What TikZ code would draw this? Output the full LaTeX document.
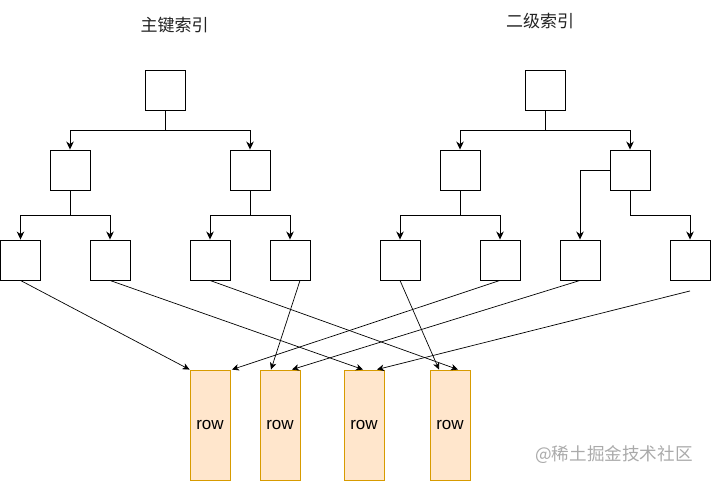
\documentclass[tikz,border=0pt]{standalone}
\usepackage{fontspec}
\setmainfont{Liberation Sans}
\newfontfamily\cjk{Noto Sans CJK SC}
\usetikzlibrary{arrows.meta,calc}
\definecolor{rowfill}{HTML}{FFE6CC}
\definecolor{rowline}{HTML}{D79B00}
\definecolor{titlecol}{HTML}{222222}
\definecolor{markcol}{HTML}{AAAAAA}
\tikzset{
  box/.style={draw, line width=0.9pt, minimum size=40pt, inner sep=0pt},
  rowbox/.style={draw=rowline, fill=rowfill, line width=0.9pt, minimum width=40pt, minimum height=110pt, inner sep=0pt, font=\fontsize{17}{20}\selectfont},
  tree/.style={line width=0.9pt, -{Stealth[length=8pt,width=7.5pt,inset=2.5pt]}},
  link/.style={line width=0.7pt, -{Stealth[length=7pt,width=6.5pt,inset=2pt]}},
  title/.style={font=\cjk\fontsize{17}{20}\selectfont, text=titlecol, inner sep=0pt},
  wmark/.style={font=\cjk\fontsize{17.6}{20}\selectfont, text=markcol, inner sep=0pt}
}
\begin{document}
\begin{tikzpicture}[x=1pt,y=-1pt]
\useasboundingbox (0,0) rectangle (711,481);
% titles
\node[title] (t1) at (174.5,25) {主键索引};
\node[title] (t2) at (540,21) {二级索引};
% primary index tree
\node[box] (pr) at (165,90) {};
\node[box] (p2a) at (70,170) {};
\node[box] (p2b) at (250,170) {};
\node[box] (p1) at (20.5,260) {};
\node[box] (p2) at (110,260) {};
\node[box] (p3) at (210,260) {};
\node[box] (p4) at (290,260) {};
% secondary index tree
\node[box] (sr) at (545,90) {};
\node[box] (s2a) at (460,170) {};
\node[box] (s2b) at (630,170) {};
\node[box] (s1) at (400,260) {};
\node[box] (s2) at (500,260) {};
\node[box] (s3) at (580,260) {};
\node[box] (s4) at (690,260) {};
% rows
\node[rowbox] (r1) at (210,425) {\raisebox{-1.5pt}{row}};
\node[rowbox] (r2) at (280,425) {\raisebox{-1.5pt}{row}};
\node[rowbox] (r3) at (364,425) {\raisebox{-1.5pt}{row}};
\node[rowbox] (r4) at (450,425) {\raisebox{-1.5pt}{row}};
% watermark
\node[wmark] (wm) at (614,455) {@稀土掘金技术社区};
% tree connectors (primary)
\draw[tree] (pr.south) -- ++(0,20) -| (p2a.north);
\draw[tree] (pr.south) -- ++(0,20) -| (p2b.north);
\draw[tree] (p2a.south) -- ++(0,25) -| (p1.north);
\draw[tree] (p2a.south) -- ++(0,25) -| (p2.north);
\draw[tree] (p2b.south) -- ++(0,25) -| (p3.north);
\draw[tree] (p2b.south) -- ++(0,25) -| (p4.north);
% tree connectors (secondary)
\draw[tree] (sr.south) -- ++(0,20) -| (s2a.north);
\draw[tree] (sr.south) -- ++(0,20) -| (s2b.north);
\draw[tree] (s2a.south) -- ++(0,25) -| (s1.north);
\draw[tree] (s2a.south) -- ++(0,25) -| (s2.north);
\draw[tree] (s2b.west) -| (s3.north);
\draw[tree] (s2b.south) -- ++(0,25) -| (s4.north);
% links to rows
\coordinate (s4end) at ($(s4.south)+(0,10.5)$);
\draw[link] (p1.south) -- (r1.north west);
\draw[link] (p2.south) -- ($(r3.north)+(-1,0)$);
\draw[link] (p3.south) -- ($(r4.north)+(8,0)$);
\draw[link] ($(p4.south)+(10,0)$) -- ($(r2.north)+(-9,0)$);
\draw[link] (s1.south) -- ($(r4.north)+(-11,0)$);
\draw[link] (s2.south) -- ($(r1.north east)+(1.5,0)$);
\draw[link] (s3.south) -- ($(r2.north)+(12,0)$);
\draw[link] (s4end) -- ($(r3.north)+(13,0)$);
\end{tikzpicture}
\end{document}
